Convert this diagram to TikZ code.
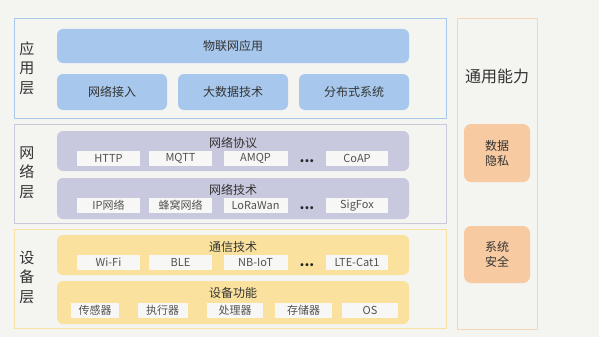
\documentclass[tikz,border=0pt]{standalone}
\usepackage{fontspec}
\setmainfont{Noto Sans CJK SC}
\usetikzlibrary{positioning}
\definecolor{bgc}{HTML}{F4F4F1}
\definecolor{appBorder}{HTML}{A9C8EA}
\definecolor{blueFill}{HTML}{A7C8EC}
\definecolor{netBorder}{HTML}{C9C9DB}
\definecolor{purpleFill}{HTML}{C8C8DE}
\definecolor{devBorder}{HTML}{F6E2A6}
\definecolor{yellowFill}{HTML}{FAE29E}
\definecolor{rightBorder}{HTML}{F5D6B8}
\definecolor{orangeFill}{HTML}{F8CAA2}
\definecolor{tagFill}{HTML}{F7F7F5}
\definecolor{txt}{HTML}{333333}
\tikzset{
  layer/.style={draw=#1, line width=1pt, fill=none, rectangle, inner sep=0pt},
  bluebox/.style={fill=blueFill, draw=none, rounded corners=6pt, inner sep=0pt, font=\fontsize{12}{14}\selectfont, text=txt},
  panel/.style={fill=#1, draw=none, rounded corners=6pt, inner sep=0pt},
  paneltitle/.style={font=\fontsize{12}{14}\selectfont, text=txt, inner sep=0pt},
  tag/.style={fill=tagFill, draw=none, inner sep=0pt, minimum height=15pt, font=\fontsize{11}{13}\selectfont, text=txt!85},
  dots/.style={font=\fontsize{14}{14}\selectfont\bfseries, text=black!85, inner sep=0pt},
  layerlabel/.style={font=\fontsize{15}{19.5}\selectfont, text=txt, align=center, inner sep=0pt},
  orangebox/.style={fill=orangeFill, draw=none, rounded corners=7pt, inner sep=0pt, minimum width=66pt, font=\fontsize{12}{15}\selectfont, text=txt, align=center},
}
\begin{document}
\begin{tikzpicture}[x=1pt,y=-1pt]
\fill[bgc] (0,0) rectangle (599,337);
\useasboundingbox (0,0) rectangle (599,337);

% layer frames
\node[layer=appBorder, minimum width=432pt, minimum height=99pt] (appL) at (230,68.5) {};
\node[layer=netBorder, minimum width=432pt, minimum height=99pt] (netL) at (230,173.5) {};
\node[layer=devBorder, minimum width=432pt, minimum height=99pt] (devL) at (230,278.5) {};
\node[layer=rightBorder, minimum width=80pt, minimum height=310pt] (capL) at (497,174) {};

% layer labels
\node[layerlabel] (appLab) at (27,68) {应\\用\\层};
\node[layerlabel] (netLab) at (27,172.5) {网\\络\\层};
\node[layerlabel] (devLab) at (27,277) {设\\备\\层};
\node[font=\fontsize{16}{18}\selectfont, text=txt, inner sep=0pt] (capLab) at (497,76) {通用能力};

% application layer
\node[bluebox, minimum width=352pt, minimum height=34pt] (iot) at (233,46) {物联网应用};
\node[bluebox, minimum width=110pt, minimum height=36pt] (acc) at (112,92) {网络接入};
\node[bluebox, minimum width=110pt, minimum height=36pt] (big) at (233,92) {大数据技术};
\node[bluebox, minimum width=110pt, minimum height=36pt] (dist) at (354,92) {分布式系统};

% network layer
\node[panel=purpleFill, minimum width=352pt, minimum height=40pt] (proto) at (233,151) {};
\node[paneltitle] (protoT) at (233,143) {网络协议};
\node[tag, minimum width=63pt] (http) at (108.5,158.5) {HTTP};
\node[tag, minimum width=63pt] (mqtt) at (180.5,158.5) {MQTT};
\node[tag, minimum width=64pt] (amqp) at (255.5,158.5) {AMQP};
\node[dots] (d1) at (307,161) {...};
\node[tag, minimum width=62pt] (coap) at (357,158.5) {CoAP};

\node[panel=purpleFill, minimum width=352pt, minimum height=41pt] (tech) at (233,198.5) {};
\node[paneltitle] (techT) at (233,190) {网络技术};
\node[tag, minimum width=63pt] (ip) at (108.5,205.5) {IP网络};
\node[tag, minimum width=63pt] (cell) at (180.5,205.5) {蜂窝网络};
\node[tag, minimum width=64pt] (lora) at (255.5,205.5) {LoRaWan};
\node[dots] (d2) at (307,208) {...};
\node[tag, minimum width=62pt] (sigfox) at (357,205.5) {SigFox};

% device layer
\node[panel=yellowFill, minimum width=352pt, minimum height=40pt] (comm) at (233,255) {};
\node[paneltitle] (commT) at (233,247) {通信技术};
\node[tag, minimum width=63pt] (wifi) at (108.5,262.5) {Wi-Fi};
\node[tag, minimum width=63pt] (ble) at (180.5,262.5) {BLE};
\node[tag, minimum width=64pt] (nb) at (255.5,262.5) {NB-IoT};
\node[dots] (d3) at (307,265) {...};
\node[tag, minimum width=62pt] (lte) at (357,262.5) {LTE-Cat1};

\node[panel=yellowFill, minimum width=352pt, minimum height=43pt] (func) at (233,302.5) {};
\node[paneltitle] (funcT) at (233,293) {设备功能};
\node[tag, minimum width=48pt] (sens) at (95,310.5) {传感器};
\node[tag, minimum width=50pt] (act) at (162.5,310.5) {执行器};
\node[tag, minimum width=56pt] (proc) at (235,310.5) {处理器};
\node[tag, minimum width=57pt] (stor) at (303.5,310.5) {存储器};
\node[tag, minimum width=56pt] (os) at (370,310.5) {OS};

% general capabilities
\node[orangebox, minimum height=58pt] (priv) at (497,153) {数据\\隐私};
\node[orangebox, minimum height=57pt] (sec) at (497,254.5) {系统\\安全};
\end{tikzpicture}
\end{document}
